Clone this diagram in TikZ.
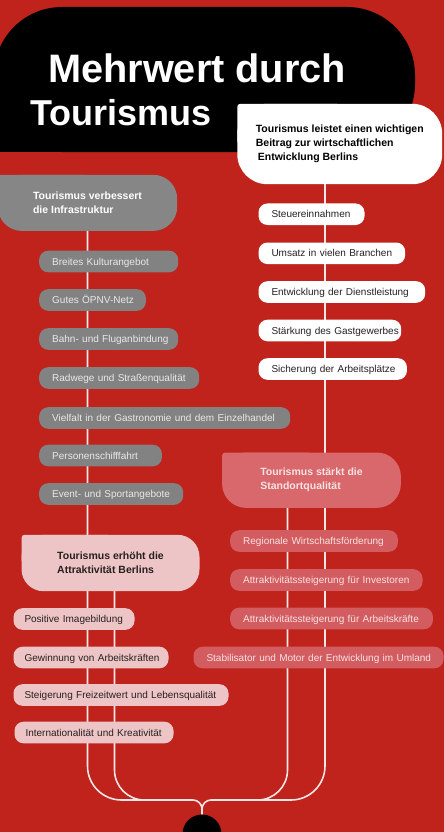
\documentclass[tikz,border=0pt]{standalone}
\usepackage{fontspec}
\setmainfont{Liberation Sans}
\usetikzlibrary{positioning}
\definecolor{tourred}{RGB}{192,34,28}
\definecolor{hdgray}{RGB}{134,134,134}
\definecolor{itemgray}{RGB}{130,130,130}
\definecolor{graytxt}{RGB}{232,232,232}
\definecolor{hdsalmon}{RGB}{216,104,108}
\definecolor{salmonitem}{RGB}{211,92,96}
\definecolor{salmontxt}{RGB}{248,226,226}
\definecolor{pinkbg}{RGB}{237,197,198}
\definecolor{darktxt}{RGB}{40,32,32}
\definecolor{linkcol}{RGB}{246,230,230}
\pgfdeclarelayer{lines}
\pgfdeclarelayer{boxes}
\pgfsetlayers{lines,boxes,main}

\begin{document}
\begin{tikzpicture}[x=1pt,y=-1pt,
    pill/.style={rounded corners=9pt,minimum height=21.6pt,inner xsep=13pt,inner ysep=0pt,anchor=west,
        font=\fontsize{10}{12}\selectfont,text width=#1,align=left,text height=7.2pt,text depth=0pt,
        execute at begin node={\hbox\bgroup},execute at end node={\egroup}},
    gitem/.style={pill=#1,fill=itemgray,text=graytxt},
    witem/.style={pill=#1,fill=white,text=darktxt},
    sitem/.style={pill=#1,fill=salmonitem,text=salmontxt},
    pitem/.style={pill=#1,fill=pinkbg,text=darktxt,inner xsep=11pt},
    head/.style={align=left,inner sep=0pt,font=\bfseries\fontsize{10.5}{14}\selectfont},
    title/.style={anchor=base west,inner sep=0pt,text=white,font=\bfseries\fontsize{#1}{42}\selectfont},
    link/.style={draw=linkcol,line width=1.6pt}
]
\useasboundingbox (0,0) rectangle (444,832);

% title
\node[title=39.7] (ttl1) at (48,82.7) {Mehrwert durch};
\node[title=36] (ttl2) at (30,125) {Tourismus};

% headers
\node[head,text=black,minimum width=204.5pt,minimum height=80pt] (wh) at (339.75,144)
    {Tourismus leistet einen wichtigen\\Beitrag zur wirtschaftlichen\\\hspace*{2pt}Entwicklung Berlins};
\node[head,text=white,minimum width=179pt,minimum height=55.7pt] (gh) at (87.5,202.85)
    {Tourismus verbessert\\die Infrastruktur};
\node[head,text=salmontxt,minimum width=178.4pt,minimum height=55pt] (sh) at (311.5,480.2)
    {Tourismus stärkt die\\Standortqualität};
\node[head,text=darktxt,minimum width=177.6pt,minimum height=56pt] (ph) at (110.5,563)
    {Tourismus erhöht die\\Attraktivität Berlins};

% right column
\node[witem=80pt] (w1) at (258.3,214.2) {Steuereinnahmen};
\node[witem=120.7pt] (w2) at (258.3,253.3) {Umsatz in vielen Branchen};
\node[witem=140.7pt] (w3) at (258.3,292) {Entwicklung der Dienstleistung};
\node[witem=116.7pt] (w4) at (258.3,330.5) {Stärkung des Gastgewerbes};
\node[witem=122.4pt] (w5) at (258.3,369) {Sicherung der Arbeitsplätze};

% left column
\node[gitem=113pt] (g1) at (39,261.5) {Breites Kulturangebot};
\node[gitem=80.7pt] (g2) at (39,300) {Gutes ÖPNV-Netz};
\node[gitem=113pt] (g3) at (39,339) {Bahn- und Fluganbindung};
\node[gitem=134pt] (g4) at (39,378) {Radwege und Straßenqualität};
\node[gitem=225pt] (g5) at (39,418) {Vielfalt in der Gastronomie und dem Einzelhandel};
\node[gitem=96.7pt] (g6) at (39,455.5) {Personenschifffahrt};
\node[gitem=118pt] (g7) at (39,494) {Event- und Sportangebote};

\node[sitem=141.7pt] (s1) at (230,541) {Regionale Wirtschaftsförderung};
\node[sitem=166.3pt] (s2) at (230,580) {Attraktivitätssteigerung für Investoren};
\node[sitem=176.7pt] (s3) at (230,618.5) {Attraktivitätssteigerung für Arbeitskräfte};
\node[sitem=224pt] (s4) at (193.3,657.5) {Stabilisator und Motor der Entwicklung im Umland};

\node[pitem=99pt] (p1) at (13.3,619) {Positive Imagebildung};
\node[pitem=133pt] (p2) at (13.3,657.5) {Gewinnung von Arbeitskräften};
\node[pitem=193pt] (p3) at (13.3,695) {Steigerung Freizeitwert und Lebensqualität};
\node[pitem=137pt] (p4) at (14.3,732.5) {Internationalität und Kreativität};

\coordinate (join) at (202,800);
\node[circle,fill=black,minimum size=39pt,inner sep=0pt] (hub) at (202,834) {};

\begin{pgfonlayer}{lines}
\fill[tourred] (0,0) rectangle (444,832);
\draw[link,rounded corners=34pt] (gh.south) |- ([xshift=-12pt]join);
\draw[link,rounded corners=30pt] ([xshift=4pt]ph.south) |- ([xshift=-12pt]join);
\draw[link,rounded corners=34pt] ([xshift=-14.75pt]wh.south) |- ([xshift=12pt]join);
\draw[link,rounded corners=30pt] ([xshift=-24pt]sh.south) |- ([xshift=12pt]join);
\draw[link,rounded corners=9pt] ([xshift=-12pt]join) -| (hub.north);
\draw[link,rounded corners=9pt] ([xshift=12pt]join) -| (hub.north);
\end{pgfonlayer}

\begin{pgfonlayer}{boxes}
\fill[black,rounded corners=68pt] (-6,7) rectangle (415,152);
\fill[black] (-6,80) rectangle (120,152);
\foreach \n/\c/\r in {wh/white/30pt,gh/hdgray/24pt,sh/hdsalmon/24pt,ph/pinkbg/22pt}{
    \fill[\c,rounded corners=\r] (\n.south west) rectangle (\n.north east);
    \fill[\c,rounded corners=3pt] (\n.north west) rectangle (\n.center);
}
\end{pgfonlayer}
\end{tikzpicture}
\end{document}
